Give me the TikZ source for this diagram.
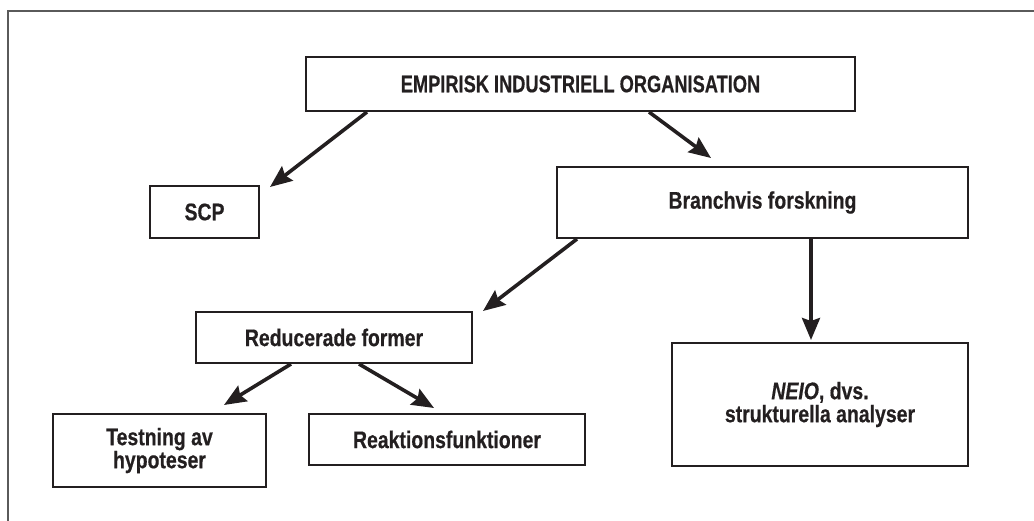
\documentclass[tikz,border=0pt]{standalone}
\usepackage{fontspec}
\setmainfont{Liberation Sans}[FakeStretch=0.81, FakeBold=0.5]
\newfontfamily\topfont{Liberation Sans}[FakeStretch=0.76, FakeBold=0.5]
\usetikzlibrary{arrows.meta,calc}
\definecolor{ink}{HTML}{231F20}
\definecolor{framegray}{HTML}{5A5A5A}
\begin{document}
\begin{tikzpicture}[x=1pt,y=-1pt,
  box/.style={draw=ink, line width=2pt, inner sep=0pt, align=center, text=ink,
    font=\bfseries\fontsize{24}{23}\selectfont},
  arr/.style={draw=ink, line width=3.6pt, -{Stealth[length=22pt,width=18pt,inset=3pt]}},
  framerule/.style={draw=framegray, line width=1.6pt}]
\useasboundingbox (0,0) rectangle (1034,521);
\coordinate (fr1) at (1034,11);
\coordinate (fr2) at (8,11);
\coordinate (fr3) at (8,521);
\draw[framerule] (fr1) -- (fr2) -- (fr3);

\node[box, minimum width=549pt, minimum height=54pt,
  font=\topfont\bfseries\fontsize{24}{23}\selectfont] (top) at (580.5,84) {EMPIRISK INDUSTRIELL ORGANISATION};
\node[box, minimum width=109pt, minimum height=52pt] (scp) at (204.5,212) {SCP};
\node[box, minimum width=411pt, minimum height=71pt] (branch) at (762.5,202.5) {Branchvis forskning};
\node[box, minimum width=276pt, minimum height=51pt] (red) at (334,337.5) {Reducerade former};
\node[box, minimum width=296pt, minimum height=123pt] (neio) at (820,404.5) {\textit{NEIO}, dvs.\\strukturella analyser};
\node[box, minimum width=213pt, minimum height=73pt] (test) at (159.5,450.5) {Testning av\\hypoteser};
\node[box, minimum width=276pt, minimum height=51pt] (reak) at (447,439.5) {Reaktionsfunktioner};

\draw[arr] ([xshift=62pt]top.south west) -- ([xshift=10pt,yshift=-2pt]scp.north east);
\draw[arr] ([xshift=344pt]top.south west) -- ([xshift=155pt,yshift=8pt]branch.north west);
\draw[arr] ([xshift=21pt]branch.south west) -- ([xshift=10pt]red.north east);
\draw[arr] ([xshift=255pt]branch.south west) -- ([xshift=140pt,yshift=2pt]neio.north west);
\draw[arr] ([xshift=96pt]red.south west) -- ([xshift=172pt,yshift=8pt]test.north west);
\draw[arr] ([xshift=164pt]red.south west) -- ([xshift=126pt,yshift=5pt]reak.north west);
\end{tikzpicture}
\end{document}
